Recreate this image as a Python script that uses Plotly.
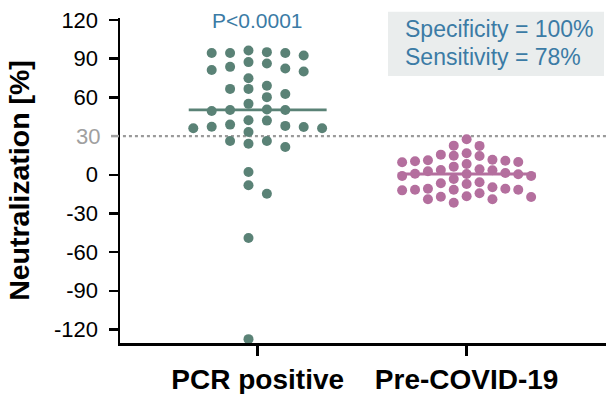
import numpy as np
import plotly.graph_objects as go

# ---------------- data ----------------
categories = ["PCR positive", "Pre-COVID-19"]
pcr_positive = [96.4, 95.1, 94.4, 94.4, 94.4, 92.5, 87.4, 86.3, 83.7, 82.4, 81.2, 80.1,
                74.9, 69.0, 66.6, 66.6, 62.7, 60.2, 55.0, 50.6, 50.3, 50.3, 49.5, 42.3,
                42.0, 38.9, 37.9, 37.3, 37.1, 36.1, 36.1, 33.2, 26.2, 26.2, 24.1, 21.6,
                2.2, -8.2, -14.7, -49.1, -127.5]
pre_covid = [27.6, 22.4, 22.6, 14.6, 16.7, 15.6, 10.5, 8.4, 9.9, 11.7, 10.9, 9.7, 14.8,
             6.3, 11.3, 3.5, 1.4, 2.7, 0.6, 0.4, 4.3, 3.7, -0.9, 0.8, -0.9, -5.8, -6.6,
             -7.2, -3.3, -11.6, -11.6, -10.8, -10.8, -9.7, -12.1, -11.6, -19.0, -14.4,
             -17.3, -16.7, -21.7, -17.0, -19.0]
y_ticks = [-120, -90, -60, -30, 0, 60, 90, 120]
y_ticklabels = ["-120", "-90", "-60", "-30", "0", "60", "90", "120"]
cutoff = 30
cutoff_label = "30"
p_text = "P<0.0001"
spec_text = "Specificity = 100%"
sens_text = "Sensitivity = 78%"

# ---------------- layout constants ----------------
W, H = 606, 394
ML, MR, MT, MB = 120, 0, 18, 51
X_RANGE = [-0.659, 1.667]
Y_RANGE = [-130.5, 121.6]
plot_w = W - ML - MR
plot_h = H - MT - MB
ppu_x = plot_w / (X_RANGE[1] - X_RANGE[0])
ppu_y = plot_h / (Y_RANGE[1] - Y_RANGE[0])

GREEN = "#5A8276"
PINK = "#B46F9E"
BLUE = "#3B7BA5"
GRAY = "#A0A0A0"
FONT = "Liberation Sans, Arial, sans-serif"


def px_x(px):
    return (px - ML) / plot_w


def px_y(py):
    return (H - MB - py) / plot_h


def swarm(values, step_px, half, d_px):
    vals = np.asarray(values, dtype=float)
    order = np.argsort(-vals, kind="stable")
    if half:
        cands = sorted([k + 0.5 for k in range(-12, 12)], key=lambda c: (abs(c), c))
    else:
        cands = sorted(range(-12, 13), key=lambda c: (abs(c), c))
    cols = {}
    offs = np.zeros(len(vals))
    for i in order:
        y = vals[i] * ppu_y
        for c in cands:
            if all(abs(y - yy) >= d_px for yy in cols.get(c, [])):
                cols.setdefault(c, []).append(y)
                offs[i] = c * step_px / ppu_x
                break
    return offs


groups = [(pcr_positive, GREEN, 18.4, True), (pre_covid, PINK, 12.9, False)]

fig = go.Figure()
for gi, (vals, col, step, half) in enumerate(groups):
    xo = swarm(vals, step, half, 10.0)
    fig.add_trace(go.Scatter(
        x=gi + xo, y=vals, mode="markers",
        marker=dict(size=10, color=col, line=dict(width=0)),
        cliponaxis=False, showlegend=False, hoverinfo="skip"))
    med = float(np.median(vals))
    fig.add_trace(go.Scatter(
        x=[gi - 0.33, gi + 0.33], y=[med, med], mode="lines",
        line=dict(color=col, width=2.8), showlegend=False, hoverinfo="skip"))

# gray dotted cutoff line, gray tick and label
fig.add_shape(type="line", xref="x", yref="y", x0=-0.645, x1=X_RANGE[1], y0=cutoff, y1=cutoff,
              line=dict(color="#9A9A9A", width=2.2, dash="dot"), layer="below")
fig.add_shape(type="line", xref="paper", yref="y", x0=px_x(111), x1=px_x(119), y0=cutoff, y1=cutoff,
              line=dict(color=GRAY, width=2.5))
fig.add_annotation(xref="paper", yref="y", x=px_x(102), y=cutoff, text=cutoff_label,
                   showarrow=False, xanchor="right", yanchor="middle",
                   font=dict(family=FONT, size=22, color=GRAY))

# stats box
fig.add_shape(type="rect", xref="paper", yref="paper",
              x0=px_x(388), x1=px_x(604), y0=px_y(76), y1=px_y(11.7),
              fillcolor="#EAEDED", line=dict(width=0), layer="below")
fig.add_annotation(xref="paper", yref="paper", x=px_x(403), y=px_y(29),
                   text=spec_text, showarrow=False, xanchor="left", yanchor="middle",
                   font=dict(family=FONT, size=23, color=BLUE))
fig.add_annotation(xref="paper", yref="paper", x=px_x(403), y=px_y(57),
                   text=sens_text, showarrow=False, xanchor="left", yanchor="middle",
                   font=dict(family=FONT, size=23, color=BLUE))
fig.add_annotation(xref="x", yref="paper", x=0, y=px_y(20),
                   text=p_text, showarrow=False, xanchor="center", yanchor="middle",
                   font=dict(family=FONT, size=21, color=BLUE))

fig.update_layout(
    width=W, height=H,
    margin=dict(l=ML, r=MR, t=MT, b=MB, pad=0, autoexpand=False),
    paper_bgcolor="white", plot_bgcolor="white",
    showlegend=False,
    font=dict(family=FONT, color="black"),
    xaxis=dict(range=X_RANGE, tickvals=[0, 1], ticktext=categories,
               ticks="outside", ticklen=10, tickwidth=2.5, tickcolor="black",
               showline=True, linewidth=2.5, linecolor="black",
               showgrid=False, zeroline=False, automargin=False,
               tickfont=dict(family=FONT, size=28, color="black", weight="bold"),
               ticklabelstandoff=0),
    yaxis=dict(range=Y_RANGE, tickvals=y_ticks, ticktext=y_ticklabels,
               ticks="outside", ticklen=9, tickwidth=2.5, tickcolor="black",
               showline=True, linewidth=2.5, linecolor="black",
               showgrid=False, zeroline=False, automargin=False,
               tickfont=dict(family=FONT, size=22, color="black"),
               ticklabelstandoff=6,
               title=dict(text="Neutralization [%]", standoff=16,
                          font=dict(family=FONT, size=28.5, color="black", weight="bold"))),
)

fig.write_html("out.html",
               config={"displayModeBar": False, "staticPlot": True},
               post_script="document.body.style.margin='0';document.body.style.overflow='hidden';")
